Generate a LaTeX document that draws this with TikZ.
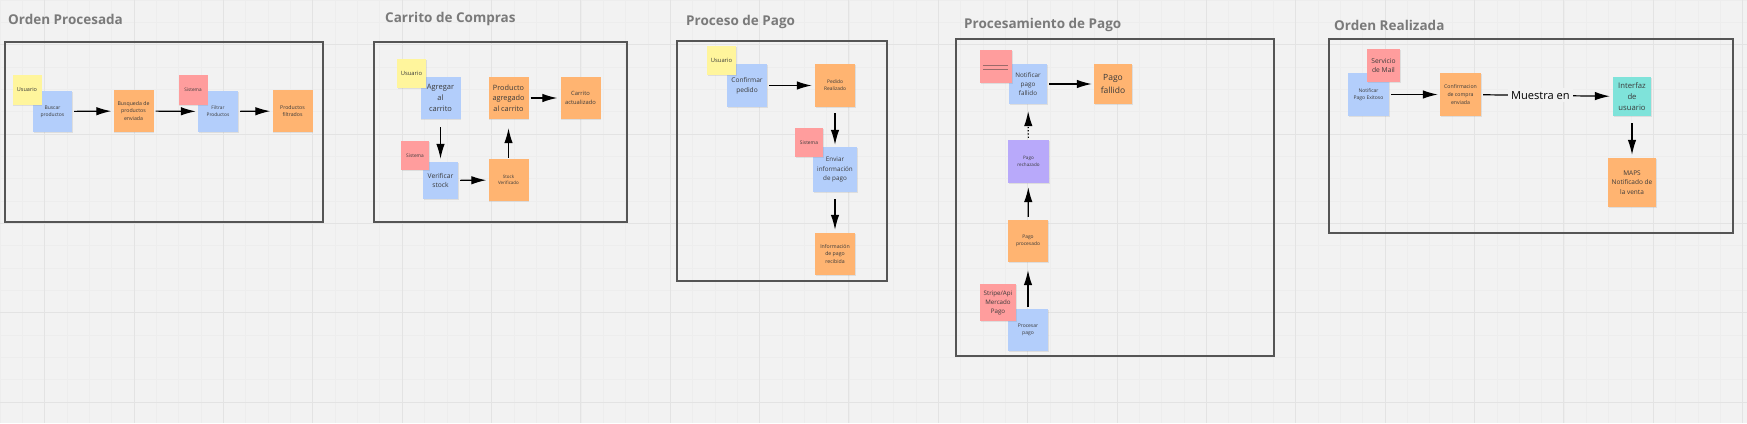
\documentclass[tikz,border=0pt]{standalone}
\usepackage{fontspec}
\setmainfont{Open Sans}
\usetikzlibrary{arrows.meta,shadows}
\definecolor{bg}{HTML}{F2F2F2}
\definecolor{gridmin}{HTML}{EDEDED}
\definecolor{gridmaj}{HTML}{E3E3E3}
\definecolor{frm}{HTML}{555555}
\definecolor{ttl}{HTML}{7A7A7A}
\definecolor{ink}{HTML}{3A3A3A}
\definecolor{ylw}{HTML}{FFF59C}
\definecolor{blu}{HTML}{B3CEFB}
\definecolor{orn}{HTML}{FFB471}
\definecolor{rd}{HTML}{FF9D9D}
\definecolor{rdln}{HTML}{9A6A6A}
\definecolor{prp}{HTML}{B8A9FA}
\definecolor{tea}{HTML}{7FE3DA}
\begin{document}
\begin{tikzpicture}[x=1pt,y=-1pt,
	fs/.style={font=\fontsize{#1}{\the\dimexpr #1pt*29/20\relax}\selectfont},
	note/.style={inner sep=0pt,align=center,text=ink,minimum width=40pt,minimum height=42pt,
		drop shadow={shadow xshift=.7pt,shadow yshift=-.9pt,opacity=.18}},
	tag/.style={note,minimum width=29pt,minimum height=30pt},
	actor/.style={tag,fill=ylw},
	ext/.style={tag,fill=rd},
	cmd/.style={note,fill=blu},
	evt/.style={note,fill=orn},
	policy/.style={note,fill=prp},
	view/.style={note,fill=tea},
	ttl/.style={anchor=west,inner sep=0pt,text=ttl,font=\bfseries\fontsize{13.5}{16}\selectfont},
	flow/.style={-{Latex[length=15pt,width=8.5pt]},line width=1.2pt,shorten <=2pt,shorten >=2pt}]
	\useasboundingbox (0,0) rectangle (1747,423);
	\fill[bg] (0,0) rectangle (1747,423);
	\foreach \i in {0,...,78} \draw[gridmin,line width=.6pt] (\i*22.34,0) -- (\i*22.34,423);
	\foreach \j in {0,...,19} \draw[gridmin,line width=.6pt] (0,\j*22.34) -- (1747,\j*22.34);
	\foreach \i in {0,...,19} \draw[gridmaj,line width=1pt] (44.68+\i*89.36,0) -- (44.68+\i*89.36,423);
	\foreach \j in {0,...,4} \draw[gridmaj,line width=1pt] (0,44.68+\j*89.36) -- (1747,44.68+\j*89.36);
	
	\draw[frm,line width=2pt] (5,42) rectangle (323,222);
	\draw[frm,line width=2pt] (374,42) rectangle (627,222);
	\draw[frm,line width=2pt] (677,41) rectangle (887,281);
	\draw[frm,line width=2pt] (956,39) rectangle (1274,356);
	\draw[frm,line width=2pt] (1329,39) rectangle (1733,233);
	
	\node[ttl] (t1) at (8,19) {Orden Procesada};
	\node[ttl] (t2) at (385,19) {Carrito de Compras};
	\node[ttl] (t3) at (686,22) {Proceso de Pago};
	\node[ttl] (t4) at (964,25) {Procesamiento de Pago};
	\node[ttl] (t5) at (1334,25) {Orden Realizada};
	
	\node[cmd,fs=5,minimum width=39pt,minimum height=41pt] (buscar) at (52.5,111.5) {Buscar\\productos};
	\node[actor,fs=5.5] (usr1) at (27,90) {Usuario};
	\node[evt,fs=5.2] (busqueda) at (133.5,111) {Busqueda de\\productos\\enviada};
	\node[cmd,fs=4.8,minimum height=41pt] (filtrar) at (218,111.5) {Filtrar\\Productos};
	\node[ext,fs=4.7] (sis1) at (193,90) {Sistema};
	\node[evt,fs=5.2] (filtrados) at (292.5,111) {Productos\\filtrados};
	\draw[flow] (buscar) -- (busqueda);
	\draw[flow] (busqueda) -- (filtrar);
	\draw[flow] (filtrar) -- (filtrados);
	
	\node[cmd,fs=7.5] (agregar) at (440.5,98) {Agregar\\al\\carrito};
	\node[actor,fs=5.8,minimum height=29pt] (usr2) at (411.5,73.5) {Usuario};
	\node[cmd,fs=6.7,minimum width=35pt,minimum height=37pt] (verificar) at (440.5,180.5) {Verificar\\stock};
	\node[ext,fs=4.8,minimum width=28pt,minimum height=29pt] (sis2) at (415,155.5) {Sistema};
	\node[evt,fs=7.3] (agregado) at (508.5,98) {Producto\\agregado\\al carrito};
	\node[evt,fs=4.5] (stock) at (508.5,180) {Stock\\Verificado};
	\node[evt,fs=5.8] (carrito) at (580.5,98) {Carrito\\actualizado};
	\draw[flow,shorten <=8pt,shorten >=3pt] (agregar) -- (verificar);
	\draw[flow] (verificar) -- (stock);
	\draw[flow,shorten <=1pt,shorten >=9pt] (stock) -- (agregado);
	\draw[flow,shorten >=3pt] (agregado) -- (carrito);
	
	\node[cmd,fs=6.6,minimum height=43pt] (confirmar) at (747,85.5) {Confirmar\\pedido};
	\node[actor,fs=5.8,minimum height=29pt] (usr3) at (721.5,60.5) {Usuario};
	\node[evt,fs=4.9,minimum height=43pt] (pedido) at (835,85.5) {Pedido\\Realizado};
	\node[cmd,fs=6.3,minimum width=44pt,minimum height=45pt] (enviar) at (835,169.5) {Enviar\\información\\de pago};
	\node[ext,fs=4.9,minimum width=28pt,minimum height=29pt] (sis3) at (809,142.5) {Sistema};
	\node[evt,fs=5.2] (recibida) at (835,254) {Información\\de pago\\recibida};
	\draw[flow,shorten >=3pt] (confirmar) -- (pedido);
	\draw[flow,shorten <=6pt] (pedido) -- (enviar);
	\draw[flow,shorten <=7pt,shorten >=3pt] (enviar) -- (recibida);
	
	\node[cmd,fs=6.3,minimum width=38pt,minimum height=40pt] (notfallo) at (1028,84) {Notificar\\pago\\fallido};
	\node[ext,minimum width=32pt,minimum height=33pt] (hot) at (996,66.5) {};
	\draw[rdln,line width=.9pt] ([xshift=3pt,yshift=1.5pt]hot.west) -- ([xshift=-4pt,yshift=1.5pt]hot.east);
	\draw[rdln,line width=.9pt] ([xshift=3pt,yshift=-2.5pt]hot.west) -- ([xshift=-4pt,yshift=-2.5pt]hot.east);
	\node[evt,fs=8.5,minimum width=38pt,minimum height=40pt] (fallido) at (1113,84) {Pago\\fallido};
	\node[policy,fs=4.6,minimum width=41pt,minimum height=43pt] (rechazo) at (1028.5,161.5) {Pago\\rechazado};
	\node[evt,fs=4.9] (procesado) at (1028,241) {Pago\\procesado};
	\node[cmd,fs=5] (procesar) at (1028,330) {Procesar\\pago};
	\node[ext,fs=6.2,minimum width=36pt,minimum height=37pt] (stripe) at (998,302.5) {Stripe/Api\\Mercado\\Pago};
	\draw[flow] (notfallo) -- (fallido);
	\draw[flow,dotted,shorten >=7pt] (rechazo) -- (notfallo);
	\draw[flow,shorten <=3pt,shorten >=4pt] (procesado) -- (rechazo);
	\draw[flow,shorten >=8pt] (procesar) -- (procesado);
	
	\node[cmd,fs=5,minimum width=41pt,minimum height=43pt] (exito) at (1368.5,94.5) {Notificar\\Pago Exitoso};
	\node[ext,fs=6.7,minimum width=33pt,minimum height=33pt] (mail) at (1383.5,65.5) {Servicio\\de Mail};
	\node[evt,fs=5.2,minimum width=41pt,minimum height=43pt] (confcompra) at (1460.5,94.5) {Confirmacion\\de compra\\enviada};
	\node[view,fs=7.7,minimum width=38pt,minimum height=39pt] (interfaz) at (1632,96.5) {Interfaz\\de\\usuario};
	\node[evt,fs=6.5,minimum width=48pt,minimum height=49pt] (maps) at (1632,182.5) {MAPS\\Notificado de\\la venta};
	\draw[flow] (exito) -- (confcompra);
	\draw[flow,shorten >=3pt] (confcompra) -- node[pos=.45,fill=bg,inner sep=3pt,fs=11.1] {Muestra en} (interfaz);
	\draw[flow,shorten <=7pt,shorten >=3pt] (interfaz) -- (maps);
\end{tikzpicture}
\end{document}
